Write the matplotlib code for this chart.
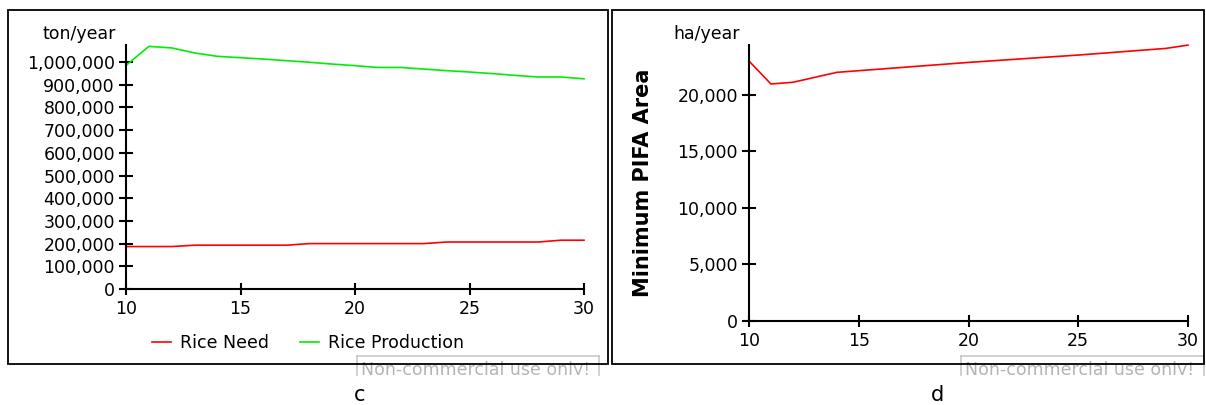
import matplotlib
matplotlib.use("Agg")
import matplotlib.pyplot as plt
from matplotlib.patches import Rectangle
from matplotlib.ticker import FuncFormatter

# ---- data ----
years = [10, 11, 12, 13, 14, 15, 16, 17, 18, 19, 20, 21, 22, 23, 24, 25, 26, 27, 28, 29, 30]
rice_production = [985000, 1069000, 1062000, 1040000, 1025000, 1019000, 1013000, 1006000,
                   999000, 991000, 984000, 976000, 976000, 969000, 962000, 956000,
                   949000, 941000, 934000, 934000, 926000]
rice_need = [187000, 187000, 187000, 193000, 193000, 193000, 193000, 193000,
             200000, 200000, 200000, 200000, 200000, 200000, 207000, 207000,
             207000, 207000, 207000, 215000, 215000]
pifa_years = [10, 11, 12, 14, 20, 25, 29, 30]
pifa_area = [23000, 20970, 21120, 22000, 22880, 23530, 24120, 24410]

xticks = [10, 15, 20, 25, 30]
yticks_c = [0, 100000, 200000, 300000, 400000, 500000, 600000, 700000, 800000, 900000, 1000000]
yticks_d = [0, 5000, 10000, 15000, 20000]

W, H = 1206, 405
fig = plt.figure(figsize=(W / 100, H / 100), dpi=100)
plt.rcParams['font.family'] = ['DejaVu Sans']
FS = 12.5

def fx(px):
    return px / W

def fy(py):
    return 1 - py / H

def rect(x0, y0, x1, y1):
    return [fx(x0), fy(y1), fx(x1) - fx(x0), fy(y0) - fy(y1)]

comma = FuncFormatter(lambda v, p: f"{int(round(v)):,}")

def style(ax):
    for s in ["top", "right"]:
        ax.spines[s].set_visible(False)
    for s in ["left", "bottom"]:
        ax.spines[s].set_linewidth(1.5)
        ax.spines[s].set_color("black")
    ax.tick_params(axis="x", direction="inout", length=8.6, width=1.5, pad=3.5, labelsize=FS)
    ax.tick_params(axis="y", direction="inout", length=10, width=1.5, pad=3, labelsize=FS)
    ax.yaxis.set_major_formatter(comma)
    ax.set_xticks(xticks)
    ax.set_xlim(10, 30)
    ax.patch.set_alpha(0)

# frames
fig.patches.append(Rectangle((fx(8), fy(364)), fx(608) - fx(8), fy(10) - fy(364),
                             transform=fig.transFigure, fill=False, edgecolor="black", lw=1.3))
fig.patches.append(Rectangle((fx(612), fy(364)), fx(1204) - fx(612), fy(10) - fy(364),
                             transform=fig.transFigure, fill=False, edgecolor="black", lw=1.3))

# ---- panel c ----
ax1 = fig.add_axes(rect(126, 45, 584, 289))
ax1.plot(years, rice_need, color="#ff0000", lw=1.2, label="Rice Need", clip_on=False)
ax1.plot(years, rice_production, color="#00ee00", lw=1.2, label="Rice Production", clip_on=False)
ax1.set_ylim(0, 1075000)
ax1.set_yticks(yticks_c)
style(ax1)
fig.text(fx(116), fy(34), "ton/year", ha="right", va="center", fontsize=FS)
leg = ax1.legend(loc="center", bbox_to_anchor=(fx(308), fy(343)), bbox_transform=fig.transFigure,
                 ncol=2, frameon=False, fontsize=FS, handlelength=1.1, columnspacing=1.8,
                 handletextpad=0.5)

# ---- panel d ----
ax2 = fig.add_axes(rect(749, 45, 1188, 321))
ax2.plot(pifa_years, pifa_area, color="#ff0000", lw=1.2, clip_on=False)
ax2.set_ylim(0, 24420)
ax2.set_yticks(yticks_d)
style(ax2)
fig.text(fx(740), fy(34), "ha/year", ha="right", va="center", fontsize=FS)
fig.text(fx(643), fy(183), "Minimum PIFA Area", rotation=90, ha="center", va="center",
         fontsize=15, fontweight="bold")

# ---- watermarks ----
for x0, x1 in [(357, 599), (961, 1204)]:
    wax = fig.add_axes(rect(x0, 356, x1, 375))
    wax.set_xlim(0, 1)
    wax.set_ylim(0, 1)
    wax.set_xticks([])
    wax.set_yticks([])
    for s in ["left", "right", "top"]:
        wax.spines[s].set_color("#c8c8c8")
        wax.spines[s].set_linewidth(1.2)
    wax.spines["bottom"].set_visible(False)
    wax.text(0.015, -0.2, "Non-commercial use only!", transform=wax.transAxes, ha="left",
             va="bottom", fontsize=12.5, color="#b4b4b4", clip_on=True)

# captions
fig.text(fx(360), fy(395), "c", ha="center", va="center", fontsize=15)
fig.text(fx(937), fy(395), "d", ha="center", va="center", fontsize=15)

fig.savefig("out.png", dpi=100)
